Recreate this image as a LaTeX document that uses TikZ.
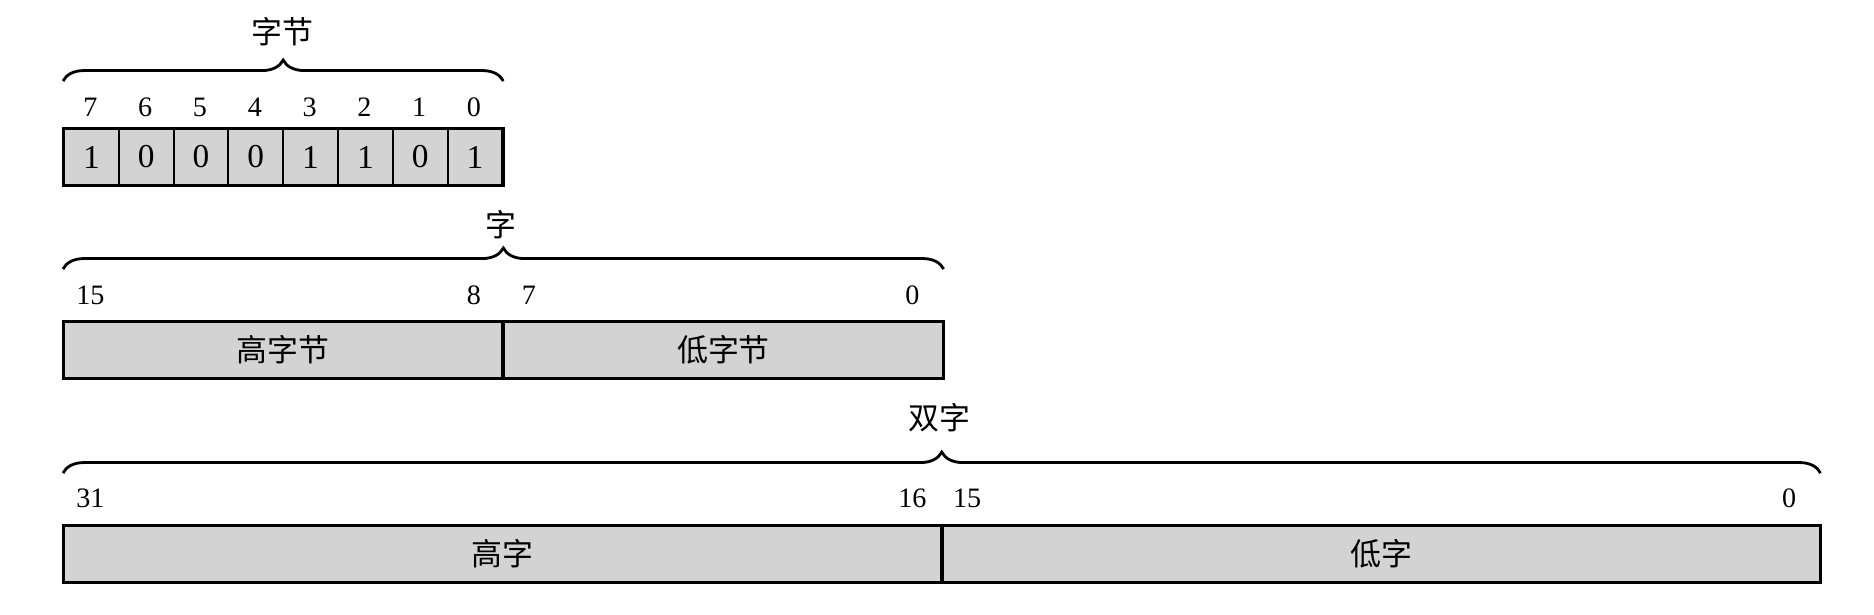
\documentclass[tikz,border=0pt]{standalone}
\usepackage{fontspec}
\setmainfont{Liberation Serif}
\newfontfamily\cjk{Noto Sans CJK SC}
\usetikzlibrary{decorations.pathreplacing}
\definecolor{cellgray}{RGB}{211,211,211}
\tikzset{
  cell/.style={draw=black, line width=0.55pt, fill=cellgray, minimum height=0.56cm,
    inner sep=0pt, anchor=west, font=\fontsize{9.5}{11}\selectfont},
  half/.style={cell, font=\cjk\fontsize{8.8}{10}\selectfont},
  bitno/.style={inner sep=0pt, font=\fontsize{8}{9}\selectfont},
  title/.style={inner sep=0pt, font=\cjk\fontsize{8.8}{10}\selectfont},
  curly/.style={decorate, decoration={brace, amplitude=0.21cm}, line width=0.8pt},
  frame/.style={draw=black, line width=0.85pt}
}
\begin{document}
\begin{tikzpicture}
  \useasboundingbox (0,0) rectangle (18.74,-6.14);

  % byte
  \foreach \b/\v [count=\i from 0] in {7/1,6/0,5/0,4/0,3/1,2/1,1/0,0/1} {
    \node[cell, minimum width=0.548cm] (b\b) at ({0.63+\i*0.548},-1.57) {\v};
    \node[bitno] (nb\b) at ({0.904+\i*0.548},-1.07) {\b};
  }
  \draw[frame] (b7.north west) rectangle (b0.south east);
  \coordinate (bl) at ([yshift=0.47cm]b7.north west);
  \coordinate (br) at ([yshift=0.47cm]b0.north east);
  \draw[curly] (bl) -- (br);
  \node[title] (tbyte) at (2.82,-0.32) {字节};

  % word
  \node[half, minimum width=4.384cm] (wh) at (0.63,-3.50) {高字节};
  \node[half, minimum width=4.384cm] (wl) at (wh.east) {低字节};
  \draw[frame] (wh.north west) rectangle (wl.south east);
  \node[bitno] (nw15) at (0.904,-2.95) {15};
  \node[bitno] (nw8) at (4.740,-2.95) {8};
  \node[bitno] (nw7) at (5.288,-2.95) {7};
  \node[bitno] (nw0) at (9.124,-2.95) {0};
  \coordinate (wbl) at ([yshift=0.52cm]wh.north west);
  \coordinate (wbr) at ([yshift=0.52cm]wl.north east);
  \draw[curly] (wbl) -- (wbr);
  \node[title] (tword) at (5.014,-2.25) {字};

  % double word
  \node[half, minimum width=8.768cm] (dh) at (0.63,-5.54) {高字};
  \node[half, minimum width=8.768cm] (dl) at (dh.east) {低字};
  \draw[frame] (dh.north west) rectangle (dl.south east);
  \node[bitno] (nd31) at (0.904,-4.98) {31};
  \node[bitno] (nd16) at (9.124,-4.98) {16};
  \node[bitno] (nd15) at (9.672,-4.98) {15};
  \node[bitno] (nd0) at (17.892,-4.98) {0};
  \coordinate (dbl) at ([yshift=0.52cm]dh.north west);
  \coordinate (dbr) at ([yshift=0.52cm]dl.north east);
  \draw[curly] (dbl) -- (dbr);
  \node[title] (tdword) at (9.398,-4.18) {双字};
\end{tikzpicture}
\end{document}
